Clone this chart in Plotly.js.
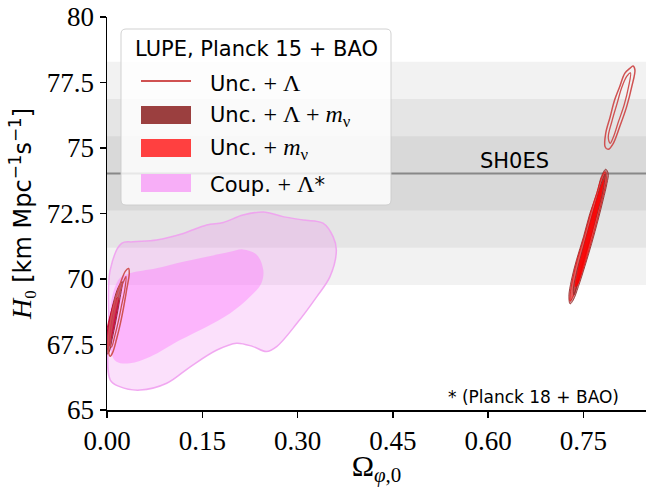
<!DOCTYPE html>
<html><head><meta charset="utf-8">
<script src="https://cdn.plot.ly/plotly-3.0.1.min.js"></script>
<style>body{margin:0;background:#fff}#plot{width:646px;height:487px}</style>
</head><body><div id="plot"></div>
<script>
// ---------------- data ----------------
const xTicks = [0, 0.15, 0.30, 0.45, 0.60, 0.75];
const xTickText = ['0.00', '0.15', '0.30', '0.45', '0.60', '0.75'];
const yTicks = [65, 67.5, 70, 72.5, 75, 77.5, 80];
const yTickText = ['65', '67.5', '70', '72.5', '75', '77.5', '80'];

const shoesH0 = 74.03;
const shoesSigma = 1.42;
const shoesLevels = [3, 2, 1];

// Coupled + Lambda (pink)
const coupOuterX = [0.005,0.023,0.041,0.078,0.120,0.157,0.183,0.214,0.246,0.277,0.309,0.340,0.356,0.361,0.351,0.330,0.299,0.267,0.251,0.230,0.204,0.173,0.131,0.094,0.052,0.020,0.005,0.003];
const coupOuterY = [70.34,71.36,71.42,71.49,71.74,72.06,72.16,72.44,72.56,72.38,72.25,72.13,71.61,71.11,70.09,69.32,68.31,67.42,67.23,67.42,67.55,67.29,66.65,66.02,65.76,65.89,66.15,68.32];
const coupInnerX = [0.020,0.036,0.078,0.120,0.157,0.194,0.214,0.236,0.246,0.243,0.225,0.194,0.157,0.115,0.068,0.036,0.015,0.007,0.005,0.007];
const coupInnerY = [70.03,70.22,70.41,70.66,70.85,71.04,71.13,70.92,70.34,69.84,69.32,68.69,68.18,67.67,67.03,66.78,66.84,67.16,68.05,69.20];

// Uncoupled + Lambda (outlines)
const uncLamLeftOuterX = [0.034,0.035,0.031,0.026,0.021,0.015,0.009,0.005,0.002,0.003,0.007,0.014,0.022,0.029];
const uncLamLeftOuterY = [70.40,70.20,69.60,68.90,68.30,67.70,67.20,67.05,67.30,67.90,68.60,69.30,69.90,70.30];
const uncLamLeftInnerX = [0.030,0.028,0.023,0.018,0.012,0.007,0.005,0.007,0.012,0.019,0.026];
const uncLamLeftInnerY = [70.10,69.60,69.00,68.40,67.80,67.40,67.50,68.10,68.80,69.40,69.90];
const uncLamRightOuterX = [0.828,0.831,0.826,0.818,0.807,0.797,0.789,0.784,0.785,0.792,0.799,0.807,0.815,0.823];
const uncLamRightOuterY = [78.13,77.98,77.34,76.58,75.81,75.18,74.95,75.05,75.56,76.19,76.83,77.34,77.85,78.04];
const uncLamRightInnerX = [0.824,0.821,0.814,0.805,0.797,0.792,0.789,0.795,0.803,0.810,0.818];
const uncLamRightInnerY = [77.87,77.34,76.64,76.00,75.41,75.18,75.41,76.04,76.71,77.29,77.73];

// Uncoupled + Lambda + m_nu (dark)
const uncLamMnuLeftX = [0.024,0.020,0.014,0.008,0.003,-0.002,-0.002,0.003,0.010,0.018];
const uncLamMnuLeftY = [69.90,69.20,68.40,67.70,67.20,67.10,67.60,68.30,69.10,69.70];
const uncLamMnuRightOuterX = [0.785,0.789,0.787,0.781,0.773,0.763,0.752,0.742,0.734,0.729,0.727,0.731,0.739,0.750,0.760,0.771,0.778];
const uncLamMnuRightOuterY = [74.19,74.03,73.65,73.02,72.25,71.36,70.47,69.71,69.20,69.05,69.33,69.96,70.73,71.61,72.50,73.27,73.90];
const uncLamMnuRightInnerX = [0.784,0.781,0.773,0.763,0.752,0.742,0.735,0.734,0.740,0.750,0.760,0.769,0.778];
const uncLamMnuRightInnerY = [74.01,73.40,72.63,71.74,70.85,69.96,69.39,69.58,70.34,71.23,72.12,72.89,73.65];

// Uncoupled + m_nu (red)
const uncMnuLeftX = [0.018,0.014,0.009,0.004,0.000,-0.003,0.000,0.006,0.013];
const uncMnuLeftY = [69.30,68.60,68.00,67.50,67.30,67.50,68.10,68.70,69.20];
const uncMnuRightOuterX = [0.784,0.786,0.780,0.772,0.762,0.751,0.741,0.733,0.729,0.729,0.733,0.741,0.751,0.761,0.771,0.779];
const uncMnuRightOuterY = [74.10,73.80,73.10,72.30,71.40,70.50,69.80,69.30,69.15,69.40,70.00,70.80,71.60,72.50,73.30,73.90];
const uncMnuRightInnerX = [0.782,0.778,0.770,0.760,0.750,0.741,0.737,0.741,0.750,0.760,0.769,0.777];
const uncMnuRightInnerY = [73.80,73.20,72.40,71.40,70.50,69.80,69.70,70.30,71.20,72.10,72.90,73.50];

const legendTitle = 'LUPE, Planck 15 + BAO';
const M = '<span style="font-family:\'Liberation Serif\';font-size:24px">';
const legendLabels = [
  'Unc. ' + M + '+ Λ</span>',
  'Unc. ' + M + '+ Λ + <i>m</i><sub>ν</sub></span>',
  'Unc. ' + M + '+ <i>m</i><sub>ν</sub></span>',
  'Coup. ' + M + '+ Λ</span>*'
];
const legendKinds = ['line', 'box', 'box', 'box'];
const legendColors = ['#d05252', '#9b3f3f', '#ff4040', '#f7aef7'];
const noteText = '* (Planck 18 + BAO)';
const shoesLabel = 'SH0ES';

// ---------------- helpers ----------------
const L = 107, T = 17, W = 539, H = 393;
const px = v => (v - L) / W;
const py = v => (T + H - v) / H;

function closed(a) { return a.concat([a[0]]); }
function poly(x, y, fill, lineColor, lw) {
  return {
    type: 'scatter', mode: 'lines', x: closed(x), y: closed(y),
    fill: 'toself', fillcolor: fill,
    line: {color: lineColor, width: lw, shape: 'spline', smoothing: 1},
    hoverinfo: 'skip', showlegend: false
  };
}
function outline(x, y, color, lw) {
  return {
    type: 'scatter', mode: 'lines', x: closed(x), y: closed(y),
    line: {color: color, width: lw, shape: 'spline', smoothing: 1},
    hoverinfo: 'skip', showlegend: false
  };
}

const traces = [
  poly(coupOuterX, coupOuterY, 'rgba(238,130,238,0.25)', 'rgba(240,160,240,0.9)', 1.5),
  poly(coupInnerX, coupInnerY, 'rgba(255,100,255,0.35)', 'rgba(255,100,255,0)', 0),
  // left cluster
  poly(uncLamMnuLeftX, uncLamMnuLeftY, 'rgba(150,45,60,0.6)', 'rgba(140,40,50,0.9)', 1),
  poly(uncMnuLeftX, uncMnuLeftY, 'rgba(220,0,60,0.6)', 'rgba(200,0,40,0.8)', 1),
  outline(uncLamLeftOuterX, uncLamLeftOuterY, '#d05252', 1.5),
  outline(uncLamLeftInnerX, uncLamLeftInnerY, '#c84e4e', 1.3),
  // right cluster
  poly(uncLamMnuRightOuterX, uncLamMnuRightOuterY, 'rgba(160,60,60,0.55)', 'rgba(150,50,50,0.9)', 1),
  poly(uncMnuRightOuterX, uncMnuRightOuterY, 'rgba(255,50,50,0.55)', 'rgba(225,30,30,0.9)', 1),
  poly(uncLamMnuRightInnerX, uncLamMnuRightInnerY, 'rgba(150,40,40,0.4)', 'rgba(140,40,40,0.8)', 1),
  poly(uncMnuRightInnerX, uncMnuRightInnerY, 'rgba(255,0,0,0.85)', 'rgba(255,0,0,0.9)', 0.5),
  outline(uncLamRightOuterX, uncLamRightOuterY, '#d05252', 1.5),
  outline(uncLamRightInnerX, uncLamRightInnerY, '#d05252', 1.3)
];

// ---------------- shapes ----------------
const shapes = [];
shoesLevels.forEach(n => {
  shapes.push({type: 'rect', layer: 'below', xref: 'paper', yref: 'y', x0: 0, x1: 1,
    y0: shoesH0 - n * shoesSigma, y1: shoesH0 + n * shoesSigma,
    fillcolor: 'rgba(0,0,0,0.05)', line: {width: 0}});
});
shapes.push({type: 'line', layer: 'below', xref: 'paper', yref: 'y', x0: 0, x1: 1,
  y0: shoesH0, y1: shoesH0, line: {color: '#888888', width: 2}});

// legend box with rounded corners (pixel geometry -> paper)
function roundRect(x0, y0, x1, y1, r) {
  const P = (a, b) => px(a) + ',' + py(b);
  return 'M' + P(x0 + r, y0) + ' L' + P(x1 - r, y0) + ' Q' + P(x1, y0) + ' ' + P(x1, y0 + r) +
    ' L' + P(x1, y1 - r) + ' Q' + P(x1, y1) + ' ' + P(x1 - r, y1) +
    ' L' + P(x0 + r, y1) + ' Q' + P(x0, y1) + ' ' + P(x0, y1 - r) +
    ' L' + P(x0, y0 + r) + ' Q' + P(x0, y0) + ' ' + P(x0 + r, y0) + ' Z';
}
shapes.push({type: 'path', xref: 'paper', yref: 'paper', path: roundRect(121, 29, 391, 205, 5),
  fillcolor: 'rgba(255,255,255,0.8)', line: {color: 'rgba(204,204,204,0.9)', width: 1}});

const rowY = [82, 115, 148, 183];
const annotations = [];
annotations.push({xref: 'paper', yref: 'paper', x: px(256), y: py(49), text: legendTitle,
  showarrow: false, xanchor: 'center', yanchor: 'middle',
  font: {family: 'DejaVu Sans', size: 21, color: '#000'}});
legendLabels.forEach((lab, i) => {
  if (legendKinds[i] === 'line') {
    shapes.push({type: 'line', xref: 'paper', yref: 'paper', x0: px(141), x1: px(191),
      y0: py(rowY[i] - 1), y1: py(rowY[i] - 1), line: {color: legendColors[i], width: 2}});
  } else {
    shapes.push({type: 'rect', xref: 'paper', yref: 'paper', x0: px(141), x1: px(191),
      y0: py(rowY[i] - 9), y1: py(rowY[i] + 9), fillcolor: legendColors[i], line: {width: 0}});
  }
  annotations.push({xref: 'paper', yref: 'paper', x: px(208), y: py(rowY[i] + 1), text: lab,
    showarrow: false, xanchor: 'left', yanchor: 'middle',
    font: {family: 'DejaVu Sans', size: 21, color: '#000'}});
});
annotations.push({xref: 'paper', yref: 'paper', x: px(621), y: py(397), text: noteText,
  showarrow: false, xanchor: 'right', yanchor: 'middle',
  font: {family: 'DejaVu Sans', size: 17, color: '#000'}});
annotations.push({xref: 'x', yref: 'paper', x: 0.642, y: py(161), text: shoesLabel,
  showarrow: false, xanchor: 'center', yanchor: 'middle',
  font: {family: 'DejaVu Sans', size: 21, color: '#000'}});

const tickFont = {family: 'Liberation Serif', size: 27, color: '#000'};
const layout = {
  width: 646, height: 487,
  margin: {l: L, r: 0, t: T, b: 487 - T - H, pad: 0},
  paper_bgcolor: '#fff', plot_bgcolor: '#fff',
  showlegend: false,
  xaxis: {range: [0, W / 635.3], tickvals: xTicks, ticktext: xTickText,
    ticks: 'outside', ticklen: 6, tickwidth: 1.5, tickcolor: '#000',
    showline: true, linecolor: '#000', linewidth: 1.5, showgrid: false, zeroline: false,
    tickfont: tickFont, automargin: false,
    title: {text: 'Ω<sub><i>φ</i>,0</sub>', font: {family: 'Liberation Serif', size: 30, color: '#000'}, standoff: 4}},
  yaxis: {range: [65, 80], tickvals: yTicks, ticktext: yTickText,
    ticks: 'outside', ticklen: 6, tickwidth: 1.5, tickcolor: '#000',
    showline: true, linecolor: '#000', linewidth: 1.5, showgrid: false, zeroline: false,
    tickfont: tickFont, automargin: false,
    title: {text: '<span style="font-family:\'Liberation Serif\';font-style:italic;font-size:28px">H</span><span style="font-family:\'Liberation Serif\'"><sub>0</sub></span> [km Mpc<sup>−1</sup>s<sup>−1</sup>]',
      font: {family: 'DejaVu Sans', size: 24, color: '#000'}, standoff: 8}},
  shapes: shapes,
  annotations: annotations
};

Plotly.newPlot('plot', traces, layout, {displayModeBar: false, staticPlot: true});
</script>
</body></html>
